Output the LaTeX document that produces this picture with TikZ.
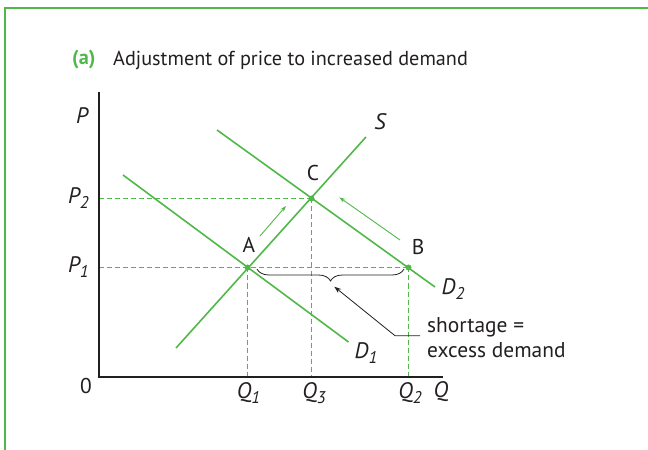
\documentclass[tikz,border=0pt]{standalone}
\usepackage{fontspec}
\setmainfont{PT Sans}
\usetikzlibrary{decorations.pathreplacing,arrows.meta}
\definecolor{eg}{RGB}{80,184,72}
\definecolor{ink}{RGB}{35,31,32}
\newcommand\mysub[1]{\raisebox{-0.45ex}{\fontsize{17}{17}\selectfont #1}}
\tikzset{
  lbl/.style={font=\fontsize{21.5}{25}\selectfont, text=ink, inner sep=0pt},
  ital/.style={font=\fontsize{22.5}{25}\selectfont\itshape},
  curve/.style={eg, line width=1.6bp},
  axisline/.style={ink, line width=1.6bp},
  guide/.style={eg, line width=1.3bp, dash pattern=on 5bp off 3bp},
  dotpt/.style={circle, fill=eg, minimum size=6bp, inner sep=0pt},
  move/.style={eg, line width=0.9bp, -{Stealth[length=6bp,width=4bp]}},
  leader/.style={ink, line width=0.8bp},
}
\begin{document}
\begin{tikzpicture}[x=1bp,y=-1bp]
\useasboundingbox (0,0) rectangle (648,450);
% frame
\coordinate (F1) at (5,450); \coordinate (F2) at (5,8); \coordinate (F3) at (648,8);
\draw[eg, line width=1.2bp] (F1) -- (F2) -- (F3);
% title
\node[lbl, anchor=west, text=eg, font=\fontsize{20.3}{24}\selectfont\bfseries] (ta) at (72,60) {(a)};
\node[lbl, anchor=west, font=\fontsize{20.3}{24}\selectfont] (tt) at (113,60) {Adjustment of price to increased demand};
% axes
\coordinate (Ytop) at (99,92);
\coordinate (O) at (99,377);
\coordinate (Xend) at (443,377);
% equilibrium points
\coordinate (A) at (247.5,267.5);
\coordinate (C) at (311.5,198.5);
\coordinate (B) at (408.5,267.5);
\coordinate (P2) at (99,198.5);
\coordinate (P1) at (99,267.5);
% guides
\draw[guide] (P2) -- (C);
\draw[guide] (P1) -- (B);
\draw[guide] (A) -- (A |- O);
\draw[guide] (C) -- (C |- O);
\draw[guide] (B) -- (B |- O);
% axes drawn
\draw[axisline] (Ytop) -- (O) -- (Xend);
% curves
\coordinate (S0) at (176,348); \coordinate (S1) at (366,137);
\coordinate (Da0) at (123,175); \coordinate (Da1) at (348.5,342);
\coordinate (Db0) at (217,130); \coordinate (Db1) at (435,287);
\draw[curve] (S0) -- (S1);
\draw[curve] (Da0) -- (Da1);
\draw[curve] (Db0) -- (Db1);
% dots
\node[dotpt] (dA) at (A) {};
\node[dotpt] (dB) at (B) {};
\node[dotpt] (dC) at (C) {};
% movement arrows
\coordinate (m1a) at (260,236); \coordinate (m1b) at (286,206);
\coordinate (m2a) at (400,240); \coordinate (m2b) at (339.3,197.3);
\draw[move] (m1a) -- (m1b);
\draw[move] (m2a) -- (m2b);
% brace
\coordinate (br0) at (257,269); \coordinate (br1) at (404,269);
\draw[leader, decorate, decoration={brace, mirror, amplitude=12bp}] (br0) -- (br1);
% leader
\coordinate (L1) at (420,335.7); \coordinate (L2) at (395,335.7); \coordinate (L3) at (334.3,286.7);
\draw[leader, -{Stealth[length=7bp,width=5bp]}] (L1) -- (L2) -- (L3);
\node[lbl, anchor=west, align=left] (note) at (427,337.5) {shortage =\\[0pt]excess demand};
% labels
\node[lbl, ital] (lP) at (82,116) {P};
\node[lbl, ital] (lQ) at (441,392) {Q};
\node[lbl] (l0) at (86,386) {0};
\node[lbl, ital, anchor=east] (lP2) at (89,198) {P\mysub{2}};
\node[lbl, ital, anchor=east] (lP1) at (89,267) {P\mysub{1}};
\node[lbl, ital] (lQ1) at (248.5,393) {Q\mysub{1}};
\node[lbl, ital] (lQ3) at (314,393) {Q\mysub{3}};
\node[lbl, ital] (lQ2) at (410,393) {Q\mysub{2}};
\node[lbl, ital] (lS) at (380,122) {S};
\node[lbl] (lC) at (313,173) {C};
\node[lbl] (lA) at (249,245) {A};
\node[lbl] (lB) at (418,247) {B};
\node[lbl, ital] (lD2) at (453,289) {D\mysub{2}};
\node[lbl, ital] (lD1) at (366,353) {D\mysub{1}};
\end{tikzpicture}
\end{document}
